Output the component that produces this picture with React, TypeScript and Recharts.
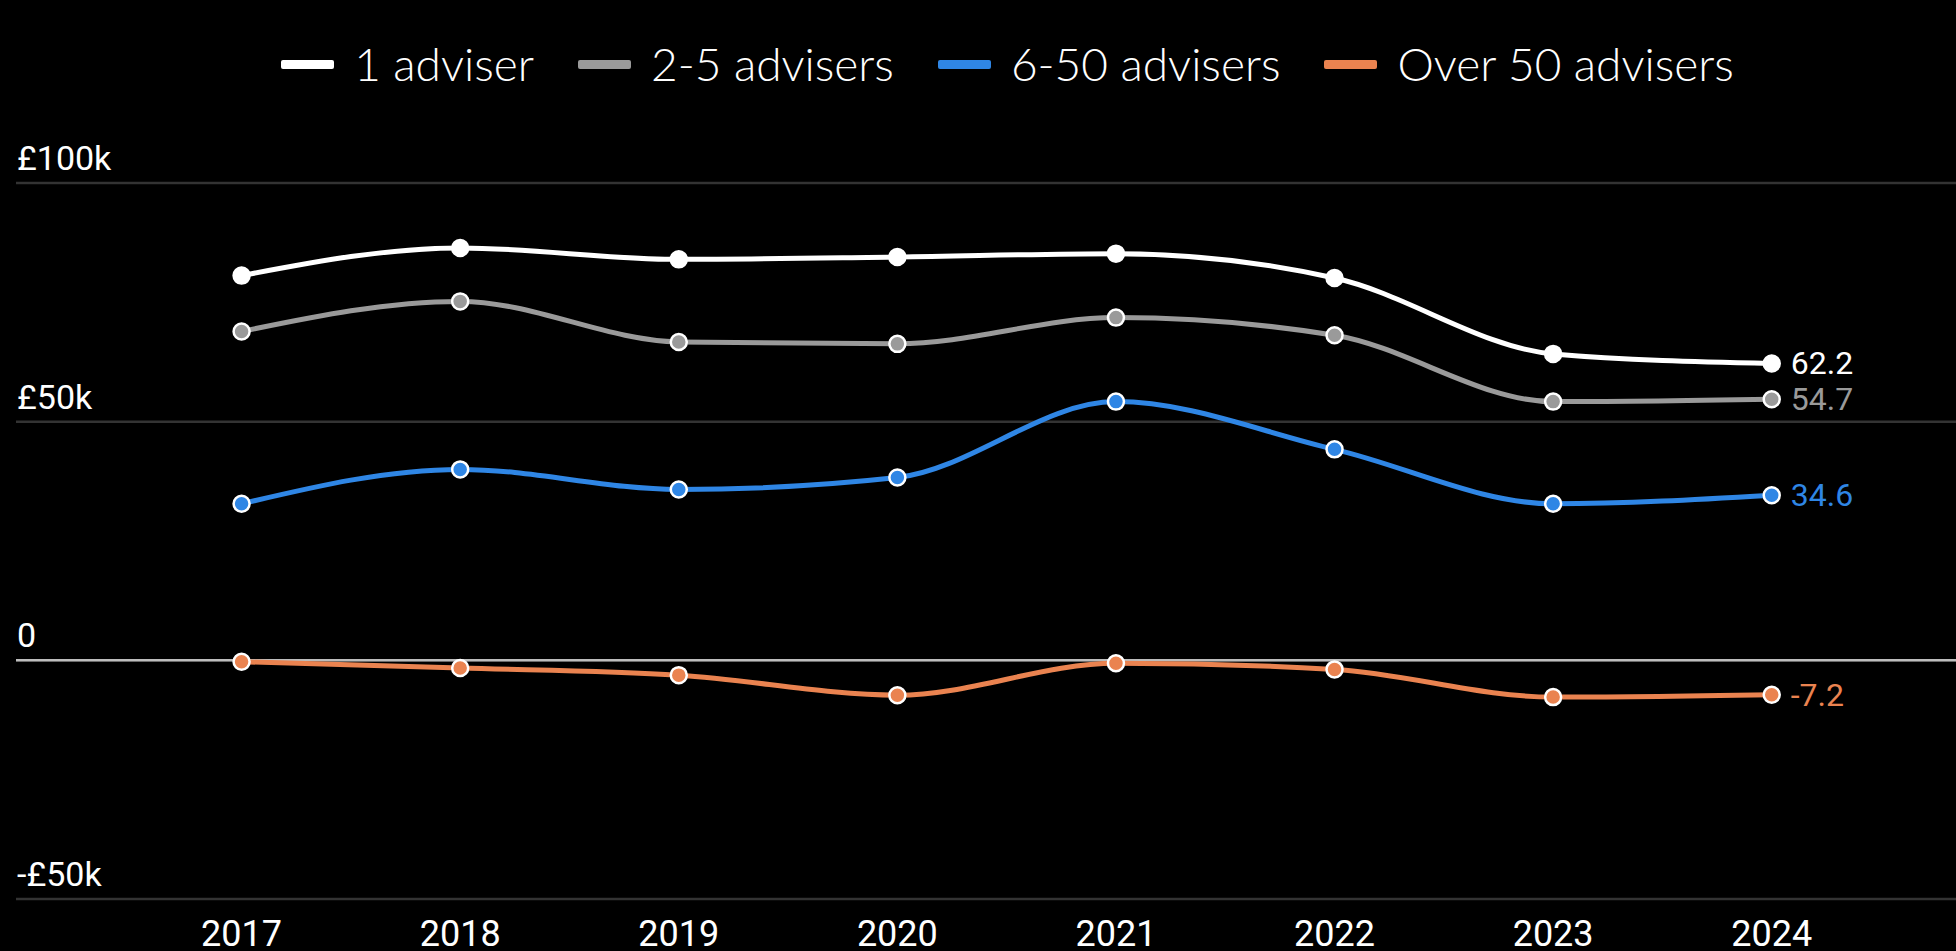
import React from 'react';
import { LineChart, Line, XAxis, YAxis, CartesianGrid, ReferenceLine, Legend, LabelList } from 'recharts';

const years = [2017, 2018, 2019, 2020, 2021, 2022, 2023, 2024];
const oneAdviser = [80.6, 86.4, 84.0, 84.5, 85.2, 80.1, 64.2, 62.2];
const twoToFive = [68.9, 75.2, 66.7, 66.3, 71.8, 68.1, 54.2, 54.7];
const sixToFifty = [32.8, 40.0, 35.8, 38.3, 54.2, 44.2, 32.8, 34.6];
const overFifty = [-0.3, -1.6, -3.1, -7.3, -0.6, -1.9, -7.7, -7.2];
const yTicks = [-50, 0, 50, 100];
const yTickLabels: Record<number, string> = { [-50]: '-£50k', 0: '0', 50: '£50k', 100: '£100k' };

const series = [
  { key: 'one', name: '1 adviser', color: '#ffffff', values: oneAdviser },
  { key: 'two', name: '2-5 advisers', color: '#9a9a9a', values: twoToFive },
  { key: 'six', name: '6-50 advisers', color: '#2f86e5', values: sixToFifty },
  { key: 'over', name: 'Over 50 advisers', color: '#ea8350', values: overFifty },
];

const data = years.map((year, i) => {
  const row: Record<string, number> = { year };
  series.forEach((s) => {
    row[s.key] = s.values[i];
  });
  return row;
});

const W = 1956;
const H = 951;

const XTick = (props: any) => {
  const { x, y, payload } = props;
  return (
    <text x={x} y={y + 47} textAnchor="middle" fill="#ffffff" fontSize={36} fontFamily="Roboto">
      {payload.value}
    </text>
  );
};

const YTick = (props: any) => {
  const { x, y, payload } = props;
  return (
    <text x={x + 1} y={y - 13} textAnchor="start" fill="#ffffff" fontSize={34} fontFamily="Roboto">
      {yTickLabels[payload.value]}
    </text>
  );
};

const LegendContent = () => (
  <div
    style={{
      display: 'flex',
      justifyContent: 'center',
      alignItems: 'center',
      paddingLeft: 59,
      height: 50,
      fontFamily: 'Lato',
      fontWeight: 300,
      fontSize: 46,
      color: '#ffffff',
      lineHeight: '50px',
      whiteSpace: 'nowrap',
    }}
  >
    {series.map((s, i) => (
      <div key={s.key} style={{ display: 'flex', alignItems: 'center', marginLeft: i === 0 ? 0 : 44 }}>
        <div style={{ width: 53, height: 9, background: s.color, borderRadius: 2, marginRight: 20 }} />
        <span>{s.name}</span>
      </div>
    ))}
  </div>
);

const makeEndLabel = (color: string) => (props: any) => {
  const { x, y, value, index } = props;
  if (index !== years.length - 1) return null;
  return (
    <text x={x + 19} y={y} dominantBaseline="central" fill={color} fontSize={32} fontFamily="Roboto">
      {Number(value).toFixed(1)}
    </text>
  );
};

export default function App() {
  return (
    <div
      style={{
        position: 'absolute',
        left: 0,
        top: 0,
        width: W,
        height: H,
        background: '#000000',
        overflow: 'hidden',
      }}
    >
      <LineChart width={W} height={H} data={data} margin={{ top: 183, right: 0, bottom: 0, left: 15 }}>
        <CartesianGrid vertical={false} horizontal stroke="#333333" strokeWidth={2.5} />
        <XAxis
          dataKey="year"
          type="number"
          domain={[2015.968, 2024.843]}
          ticks={years}
          axisLine={false}
          tickLine={false}
          tickSize={0}
          tickMargin={0}
          height={52}
          tick={<XTick />}
          interval={0}
        />
        <YAxis
          type="number"
          domain={[-50, 100]}
          ticks={yTicks}
          width={1}
          axisLine={false}
          tickLine={false}
          tickSize={0}
          tickMargin={0}
          tick={<YTick />}
          interval={0}
        />
        <ReferenceLine y={0} stroke="#bdbdbd" strokeWidth={2.5} />
        <Legend verticalAlign="middle" align="center" layout="horizontal" content={<LegendContent />} wrapperStyle={{ top: 39, left: 0, width: W }} />
        {series.map((s) => (
          <Line
            key={s.key}
            dataKey={s.key}
            name={s.name}
            type="monotone"
            stroke={s.color}
            strokeWidth={5}
            dot={{ r: 8, fill: s.color, stroke: '#ffffff', strokeWidth: 2.5 }}
            activeDot={false}
            isAnimationActive={false}
          >
            <LabelList dataKey={s.key} content={makeEndLabel(s.color)} />
          </Line>
        ))}
      </LineChart>
    </div>
  );
}
